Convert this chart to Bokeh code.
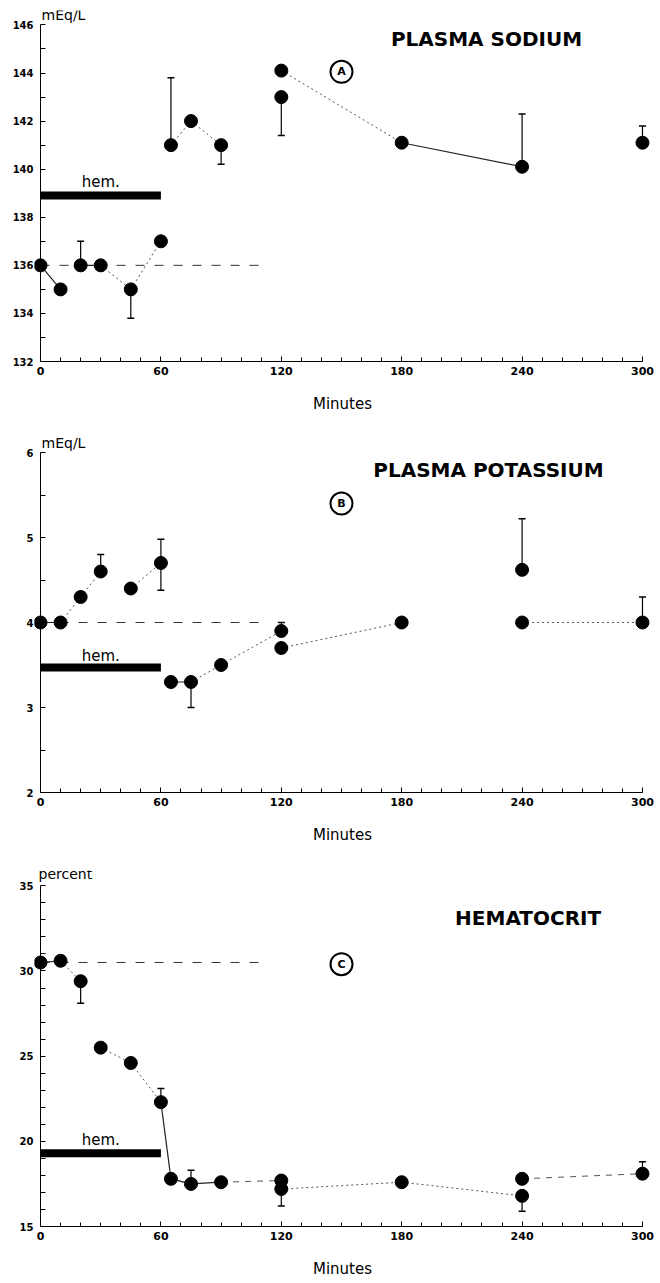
from bokeh.plotting import figure
from bokeh.layouts import column
from bokeh.models import FixedTicker, Label, Range1d, LinearAxis
from bokeh.embed import file_html
from bokeh.resources import INLINE

# ---------------- data ----------------
# x tick labels (minutes)
x_major = [0, 60, 120, 180, 240, 300]
x_minor = list(range(0, 301, 10))

# Panel A: plasma sodium (mEq/L)
na_t = [0, 10, 20, 30, 45, 60, 65, 75, 90, 120, 120, 180, 240, 300]
na_v = [136.0, 135.0, 136.0, 136.0, 135.0, 137.0, 141.0, 142.0, 141.0, 143.0, 144.1, 141.1, 140.1, 141.1]
na_up = [0, 0, 1.0, 0, 0, 0, 2.8, 0, 0, 0, 0, 0, 2.2, 0.7]
na_dn = [0, 0, 0, 0, 1.2, 0, 0, 0, 0.8, 1.6, 0, 0, 0, 0]
na_solid = [(0, 1), (2, 3), (11, 12)]
na_dotted = [(3, 4), (4, 5), (6, 7), (7, 8), (10, 11)]
na_base = 136.0
na_hem = 138.9
na_yticks = [132, 134, 136, 138, 140, 142, 144, 146]

# Panel B: plasma potassium (mEq/L)
k_t = [0, 10, 20, 30, 45, 60, 65, 75, 90, 120, 120, 180, 240, 240, 300]
k_v = [4.0, 4.0, 4.3, 4.6, 4.4, 4.7, 3.3, 3.3, 3.5, 3.9, 3.7, 4.0, 4.0, 4.62, 4.0]
k_up = [0, 0, 0, 0.2, 0, 0.28, 0, 0, 0, 0.1, 0, 0, 0, 0.6, 0.3]
k_dn = [0, 0, 0, 0, 0, 0.32, 0, 0.3, 0, 0, 0, 0, 0, 0, 0]
k_solid = [(0, 1), (6, 7)]
k_dotted = [(1, 2), (2, 3), (4, 5), (7, 8), (8, 9), (10, 11), (12, 14)]
k_base = 4.0
k_hem = 3.47
k_yticks = [2, 3, 4, 5, 6]

# Panel C: hematocrit (percent)
h_t = [0, 10, 20, 30, 45, 60, 65, 75, 90, 120, 120, 180, 240, 240, 300]
h_v = [30.5, 30.6, 29.4, 25.5, 24.6, 22.3, 17.8, 17.5, 17.6, 17.7, 17.2, 17.6, 17.8, 16.8, 18.1]
h_up = [0, 0, 0, 0, 0, 0.8, 0, 0.8, 0, 0, 0, 0, 0, 0, 0.7]
h_dn = [0, 0, 1.3, 0, 0, 0, 0, 0, 0, 0, 1.0, 0, 0, 0.9, 0]
h_solid = [(0, 1), (5, 6), (6, 7), (7, 8)]
h_dotted = [(1, 2), (3, 4), (4, 5), (10, 11), (11, 13)]
h_dashed = [(8, 9), (12, 14)]
h_base = 30.5
h_hem = 19.3
h_yticks = [15, 20, 25, 30, 35]

base_end = 110   # control line extends to 110 min
hem_start, hem_end = 0, 60

FONT = "DejaVu Sans"


def make_panel(t, v, up, dn, solid, dotted, dashed, base, hem, yticks, yminor,
               ylo, yhi, height, top, bottom, title, title_xy, letter, letter_xy,
               unit, unit_xy, hem_y):
    p = figure(width=660, height=height, output_backend="svg", toolbar_location=None,
               x_range=Range1d(-3, 304), y_range=Range1d(ylo, yhi),
               min_border_left=34, min_border_right=10,
               min_border_top=top, min_border_bottom=bottom)
    p.outline_line_color = None
    p.grid.visible = False
    p.background_fill_color = "white"

    # x axis
    xa = p.xaxis[0]
    xa.ticker = FixedTicker(ticks=x_major, minor_ticks=x_minor)
    xa.bounds = (0, 300)
    xa.axis_label = "Minutes"
    xa.axis_label_text_font = FONT
    xa.axis_label_text_font_style = "normal"
    xa.axis_label_text_font_size = "15px"
    xa.axis_label_text_color = "black"
    xa.axis_label_standoff = 17
    xa.major_label_text_font = FONT
    xa.major_label_text_font_style = "bold"
    xa.major_label_text_font_size = "11px"
    xa.major_label_text_color = "black"
    xa.major_label_standoff = 5
    xa.axis_line_color = "black"
    xa.major_tick_in = 5
    xa.major_tick_out = 0
    xa.minor_tick_in = 4
    xa.minor_tick_out = 0
    xa.major_tick_line_color = "black"
    xa.minor_tick_line_color = "black"

    # y axis labels (at frame edge, no line)
    ya = p.yaxis[0]
    ya.ticker = FixedTicker(ticks=yticks, minor_ticks=[])
    ya.axis_line_color = None
    ya.major_tick_line_color = None
    ya.minor_tick_line_color = None
    ya.major_tick_in = 0
    ya.major_tick_out = 0
    ya.minor_tick_in = 0
    ya.minor_tick_out = 0
    ya.major_label_text_font = FONT
    ya.major_label_text_font_style = "bold"
    ya.major_label_text_font_size = "10px"
    ya.major_label_text_color = "black"
    ya.major_label_standoff = 1

    # y axis line and tick marks placed at t = 0 (tick marks only, no labels)
    yl = LinearAxis(ticker=FixedTicker(ticks=[], minor_ticks=yminor),
                    fixed_location=0, bounds=(yticks[0], yticks[-1]))
    yl.axis_line_color = "black"
    yl.major_tick_in = 0
    yl.major_tick_out = 0
    yl.minor_tick_in = 5
    yl.minor_tick_out = 0
    yl.minor_tick_line_color = "black"
    yl.major_label_standoff = 0
    p.add_layout(yl, "left")

    # control baseline (dashed)
    p.line([0, base_end], [base, base], line_color="#333333", line_width=1, line_dash="9 10")

    # hemorrhage bar
    p.line([hem_start, hem_end], [hem, hem], line_color="black", line_width=8, line_cap="butt")
    p.add_layout(Label(x=(hem_start + hem_end) / 2, y=hem_y, text="hem.", text_align="center",
                       text_baseline="middle", text_font=FONT, text_font_size="15px",
                       text_color="black"))

    # connecting lines
    def links(pairs, dash, color, width):
        if not pairs:
            return
        xs = [[t[i], t[j]] for i, j in pairs]
        ys = [[v[i], v[j]] for i, j in pairs]
        p.multi_line(xs, ys, line_color=color, line_width=width, line_dash=dash)

    links(solid, "solid", "#222222", 1.2)
    links(dotted, "2 3", "#555555", 1)
    links(dashed, "6 6", "#555555", 1)

    # error bars
    ex, ey0, ey1 = [], [], []
    for ti, vi, u, d in zip(t, v, up, dn):
        if u > 0:
            ex.append(ti); ey0.append(vi); ey1.append(vi + u)
        if d > 0:
            ex.append(ti); ey0.append(vi); ey1.append(vi - d)
    if ex:
        p.segment(ex, ey0, ex, ey1, line_color="black", line_width=1.2)
        p.scatter(ex, ey1, marker="dash", size=7, line_color="black", line_width=1.5)

    # points
    p.scatter(t, v, marker="circle", size=13, fill_color="black", line_color="black")

    # title
    p.add_layout(Label(x=title_xy[0], y=title_xy[1], text=title, text_align="center",
                       text_baseline="middle", text_font=FONT, text_font_style="bold",
                       text_font_size="20px", text_color="black"))
    # circled letter
    p.scatter([letter_xy[0]], [letter_xy[1]], marker="circle", size=22,
              fill_color="white", line_color="black", line_width=2)
    p.add_layout(Label(x=letter_xy[0], y=letter_xy[1], text=letter, text_align="center",
                       text_baseline="middle", text_font=FONT, text_font_style="bold",
                       text_font_size="11px", text_color="black"))
    # unit label
    p.add_layout(Label(x=unit_xy[0], y=unit_xy[1], text=unit, text_align="left",
                       text_baseline="bottom", text_font=FONT, text_font_size="14px",
                       text_color="black"))
    return p


pA = make_panel(na_t, na_v, na_up, na_dn, na_solid, na_dotted, [], na_base, na_hem,
                na_yticks, list(range(132, 147)), 132, 146.6, 420, 10, 59,
                "PLASMA  SODIUM", (224, 145.4), "A", (150, 144.05),
                "mEq/L", (0.5, 146.1), 139.45)
pB = make_panel(k_t, k_v, k_up, k_dn, k_solid, k_dotted, [], k_base, k_hem,
                k_yticks, [2 + 0.5 * i for i in range(9)], 2, 6.2, 430, 15, 58,
                "PLASMA  POTASSIUM", (225, 5.79), "B", (150, 5.4),
                "mEq/L", (0.5, 6.02), 3.61)
pC = make_panel(h_t, h_v, h_up, h_dn, h_solid, h_dotted, h_dashed, h_base, h_hem,
                h_yticks, list(range(15, 36)), 15, 35.9, 431, 20, 55,
                "HEMATOCRIT", (243, 33.1), "C", (150, 30.4),
                "percent", (-1, 35.2), 20.1)

layout = column(pA, pB, pC, spacing=0)
open("out.html", "w").write(file_html(layout, INLINE))
